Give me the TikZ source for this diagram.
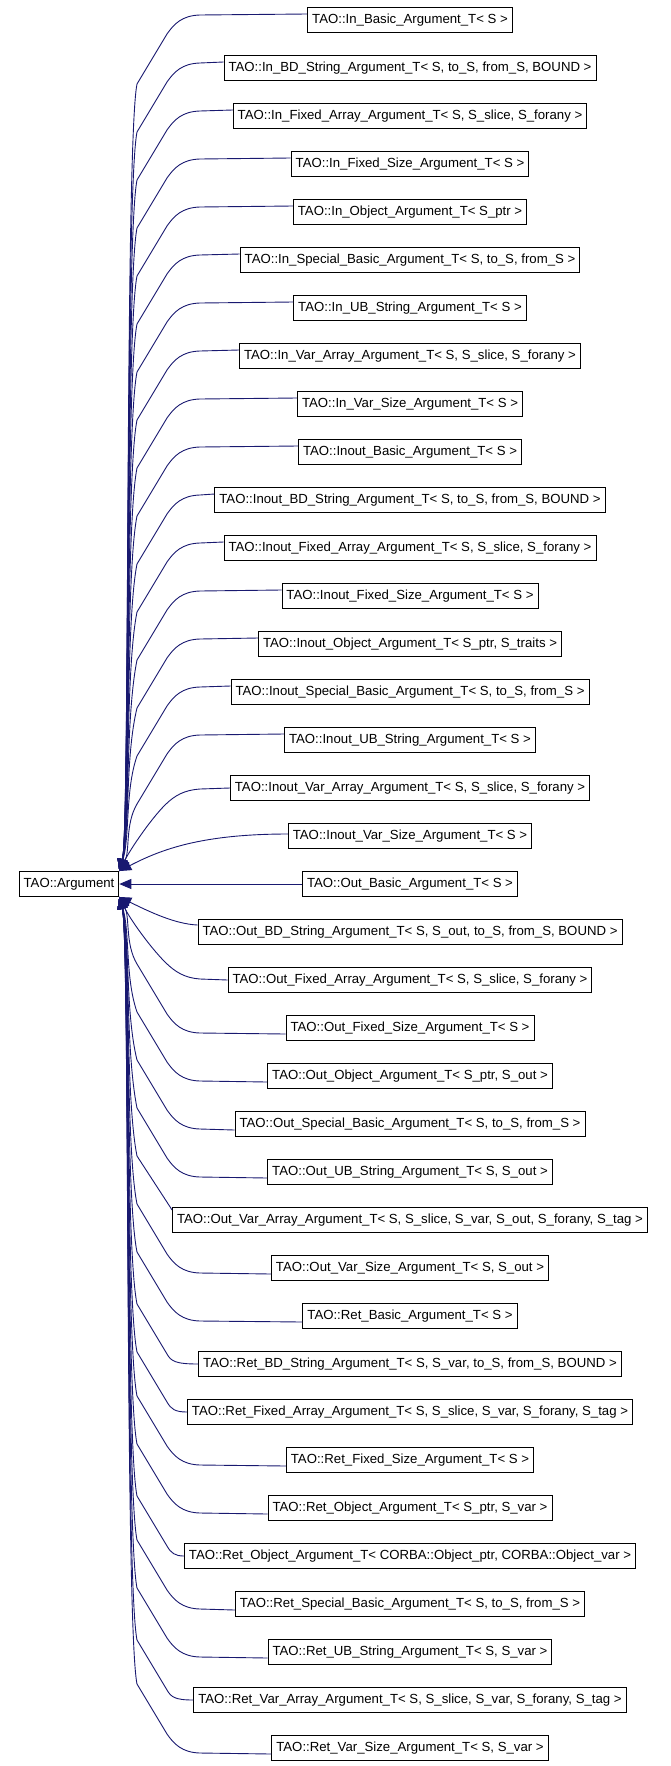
\documentclass[tikz,border=0pt]{standalone}
\usepackage{fontspec}
\setmainfont{Liberation Sans}
\usetikzlibrary{arrows,arrows.meta}
\definecolor{edgeBlue}{RGB}{25,25,112}
\newcommand{\classX}{410}
\newcommand{\classFont}{\fontsize{13.2}{15}\selectfont}
\tikzset{
  classbox/.style={draw=black, line width=0.9pt, fill=white, font=\classFont, inner xsep=4.5pt, inner ysep=0pt, minimum height=25pt},
  inherit/.style={draw=edgeBlue, line width=0.9pt, {Triangle[length=12pt,width=10pt]}-}
}

\begin{document}
\begin{tikzpicture}[x=1pt, y=1pt]
\useasboundingbox (0,0) rectangle (670,-1766);

\node[classbox] (argument) at (69,-884) {TAO::Argument};

\node[classbox] (inBasic) at (\classX,-20) {TAO::In\_Basic\_Argument\_T< S >};
\node[classbox] (inBDString) at (\classX,-68) {TAO::In\_BD\_String\_Argument\_T< S, to\_S, from\_S, BOUND >};
\node[classbox] (inFixedArray) at (\classX,-116) {TAO::In\_Fixed\_Array\_Argument\_T< S, S\_slice, S\_forany >};
\node[classbox] (inFixedSize) at (\classX,-164) {TAO::In\_Fixed\_Size\_Argument\_T< S >};
\node[classbox] (inObject) at (\classX,-212) {TAO::In\_Object\_Argument\_T< S\_ptr >};
\node[classbox] (inSpecialBasic) at (\classX,-260) {TAO::In\_Special\_Basic\_Argument\_T< S, to\_S, from\_S >};
\node[classbox] (inUBString) at (\classX,-308) {TAO::In\_UB\_String\_Argument\_T< S >};
\node[classbox] (inVarArray) at (\classX,-356) {TAO::In\_Var\_Array\_Argument\_T< S, S\_slice, S\_forany >};
\node[classbox] (inVarSize) at (\classX,-404) {TAO::In\_Var\_Size\_Argument\_T< S >};
\node[classbox] (inoutBasic) at (\classX,-452) {TAO::Inout\_Basic\_Argument\_T< S >};
\node[classbox] (inoutBDString) at (\classX,-500) {TAO::Inout\_BD\_String\_Argument\_T< S, to\_S, from\_S, BOUND >};
\node[classbox] (inoutFixedArray) at (\classX,-548) {TAO::Inout\_Fixed\_Array\_Argument\_T< S, S\_slice, S\_forany >};
\node[classbox] (inoutFixedSize) at (\classX,-596) {TAO::Inout\_Fixed\_Size\_Argument\_T< S >};
\node[classbox] (inoutObject) at (\classX,-644) {TAO::Inout\_Object\_Argument\_T< S\_ptr, S\_traits >};
\node[classbox] (inoutSpecialBasic) at (\classX,-692) {TAO::Inout\_Special\_Basic\_Argument\_T< S, to\_S, from\_S >};
\node[classbox] (inoutUBString) at (\classX,-740) {TAO::Inout\_UB\_String\_Argument\_T< S >};
\node[classbox] (inoutVarArray) at (\classX,-788) {TAO::Inout\_Var\_Array\_Argument\_T< S, S\_slice, S\_forany >};
\node[classbox] (inoutVarSize) at (\classX,-836) {TAO::Inout\_Var\_Size\_Argument\_T< S >};
\node[classbox] (outBasic) at (\classX,-884) {TAO::Out\_Basic\_Argument\_T< S >};
\node[classbox] (outBDString) at (\classX,-932) {TAO::Out\_BD\_String\_Argument\_T< S, S\_out, to\_S, from\_S, BOUND >};
\node[classbox] (outFixedArray) at (\classX,-980) {TAO::Out\_Fixed\_Array\_Argument\_T< S, S\_slice, S\_forany >};
\node[classbox] (outFixedSize) at (\classX,-1028) {TAO::Out\_Fixed\_Size\_Argument\_T< S >};
\node[classbox] (outObject) at (\classX,-1076) {TAO::Out\_Object\_Argument\_T< S\_ptr, S\_out >};
\node[classbox] (outSpecialBasic) at (\classX,-1124) {TAO::Out\_Special\_Basic\_Argument\_T< S, to\_S, from\_S >};
\node[classbox] (outUBString) at (\classX,-1172) {TAO::Out\_UB\_String\_Argument\_T< S, S\_out >};
\node[classbox] (outVarArray) at (\classX,-1220) {TAO::Out\_Var\_Array\_Argument\_T< S, S\_slice, S\_var, S\_out, S\_forany, S\_tag >};
\node[classbox] (outVarSize) at (\classX,-1268) {TAO::Out\_Var\_Size\_Argument\_T< S, S\_out >};
\node[classbox] (retBasic) at (\classX,-1316) {TAO::Ret\_Basic\_Argument\_T< S >};
\node[classbox] (retBDString) at (\classX,-1364) {TAO::Ret\_BD\_String\_Argument\_T< S, S\_var, to\_S, from\_S, BOUND >};
\node[classbox] (retFixedArray) at (\classX,-1412) {TAO::Ret\_Fixed\_Array\_Argument\_T< S, S\_slice, S\_var, S\_forany, S\_tag >};
\node[classbox] (retFixedSize) at (\classX,-1460) {TAO::Ret\_Fixed\_Size\_Argument\_T< S >};
\node[classbox] (retObject) at (\classX,-1508) {TAO::Ret\_Object\_Argument\_T< S\_ptr, S\_var >};
\node[classbox] (retObjectCorba) at (\classX,-1556) {TAO::Ret\_Object\_Argument\_T< CORBA::Object\_ptr, CORBA::Object\_var >};
\node[classbox] (retSpecialBasic) at (\classX,-1604) {TAO::Ret\_Special\_Basic\_Argument\_T< S, to\_S, from\_S >};
\node[classbox] (retUBString) at (\classX,-1652) {TAO::Ret\_UB\_String\_Argument\_T< S, S\_var >};
\node[classbox] (retVarArray) at (\classX,-1700) {TAO::Ret\_Var\_Array\_Argument\_T< S, S\_slice, S\_var, S\_forany, S\_tag >};
\node[classbox] (retVarSize) at (\classX,-1748) {TAO::Ret\_Var\_Size\_Argument\_T< S, S\_var >};

% upper fan
\draw[inherit] (argument.north east) .. controls (130,-832) and (125,-144) .. (137,-84) -- (167,-34) .. controls (174,-24) and (182,-15.5) .. (200,-15) -- ([yshift=6pt]inBasic.west);
\draw[inherit] (argument.north east) .. controls (130,-832) and (125,-192) .. (137,-132) -- (167,-82) .. controls (174,-72) and (182,-63.5) .. (200,-63) -- ([yshift=6pt]inBDString.west);
\draw[inherit] (argument.north east) .. controls (130,-832) and (125,-240) .. (137,-180) -- (167,-130) .. controls (174,-120) and (182,-111.5) .. (200,-111) -- ([yshift=6pt]inFixedArray.west);
\draw[inherit] (argument.north east) .. controls (130,-832) and (125,-288) .. (137,-228) -- (167,-178) .. controls (174,-168) and (182,-159.5) .. (200,-159) -- ([yshift=6pt]inFixedSize.west);
\draw[inherit] (argument.north east) .. controls (130,-832) and (125,-336) .. (137,-276) -- (167,-226) .. controls (174,-216) and (182,-207.5) .. (200,-207) -- ([yshift=6pt]inObject.west);
\draw[inherit] (argument.north east) .. controls (130,-832) and (125,-384) .. (137,-324) -- (167,-274) .. controls (174,-264) and (182,-255.5) .. (200,-255) -- ([yshift=6pt]inSpecialBasic.west);
\draw[inherit] (argument.north east) .. controls (130,-832) and (125,-432) .. (137,-372) -- (167,-322) .. controls (174,-312) and (182,-303.5) .. (200,-303) -- ([yshift=6pt]inUBString.west);
\draw[inherit] (argument.north east) .. controls (130,-832) and (125,-480) .. (137,-420) -- (167,-370) .. controls (174,-360) and (182,-351.5) .. (200,-351) -- ([yshift=6pt]inVarArray.west);
\draw[inherit] (argument.north east) .. controls (130,-832) and (125,-528) .. (137,-468) -- (167,-418) .. controls (174,-408) and (182,-399.5) .. (200,-399) -- ([yshift=6pt]inVarSize.west);
\draw[inherit] (argument.north east) .. controls (130,-832) and (125,-576) .. (137,-516) -- (167,-466) .. controls (174,-456) and (182,-447.5) .. (200,-447) -- ([yshift=6pt]inoutBasic.west);
\draw[inherit] (argument.north east) .. controls (130,-832) and (125,-624) .. (137,-564) -- (167,-514) .. controls (174,-504) and (182,-495.5) .. (200,-495) -- ([yshift=6pt]inoutBDString.west);
\draw[inherit] (argument.north east) .. controls (130,-832) and (125,-672) .. (137,-612) -- (167,-562) .. controls (174,-552) and (182,-543.5) .. (200,-543) -- ([yshift=6pt]inoutFixedArray.west);
\draw[inherit] (argument.north east) .. controls (130,-832) and (125,-720) .. (137,-660) -- (167,-610) .. controls (174,-600) and (182,-591.5) .. (200,-591) -- ([yshift=6pt]inoutFixedSize.west);
\draw[inherit] (argument.north east) .. controls (130,-832) and (125,-757.2) .. (137,-708) -- (167,-658) .. controls (174,-648) and (182,-639.5) .. (200,-639) -- ([yshift=6pt]inoutObject.west);
\draw[inherit] (argument.north east) .. controls (130,-837.2) and (125,-790.8) .. (137,-756) -- (167,-706) .. controls (174,-696) and (182,-687.5) .. (200,-687) -- ([yshift=6pt]inoutSpecialBasic.west);
\draw[inherit] (argument.north east) .. controls (130,-851.6) and (125,-824.4) .. (137,-804) -- (167,-754) .. controls (174,-744) and (182,-735.5) .. (200,-735) -- ([yshift=6pt]inoutUBString.west);
\draw[inherit] (argument.north east) .. controls (130,-850) and (150,-820) .. (165,-805) .. controls (175,-795) and (185,-790) .. (200,-789) -- (inoutVarArray.west);
\draw[inherit] (argument.north east) .. controls (160,-850) and (200,-834) .. ([yshift=2pt]inoutVarSize.west);

\draw[inherit] (argument.east) -- (outBasic.west);

% lower fan
\draw[inherit] (argument.south east) .. controls (150,-912) and (175,-924) .. ([yshift=7pt]outBDString.west);
\draw[inherit] (argument.south east) .. controls (130,-919) and (150,-947) .. (165,-962) .. controls (175,-972) and (185,-978) .. (200,-979) -- (outFixedArray.west);
\draw[inherit] (argument.south east) .. controls (130,-917.1) and (125,-943.9) .. (137,-964) -- (167,-1014) .. controls (174,-1024) and (182,-1032.5) .. (200,-1033) -- ([yshift=-6pt]outFixedSize.west);
\draw[inherit] (argument.south east) .. controls (130,-931.5) and (125,-977.5) .. (137,-1012) -- (167,-1062) .. controls (174,-1072) and (182,-1080.5) .. (200,-1081) -- ([yshift=-6pt]outObject.west);
\draw[inherit] (argument.south east) .. controls (130,-937) and (125,-1011.1) .. (137,-1060) -- (167,-1110) .. controls (174,-1120) and (182,-1128.5) .. (200,-1129) -- ([yshift=-6pt]outSpecialBasic.west);
\draw[inherit] (argument.south east) .. controls (130,-937) and (125,-1048) .. (137,-1108) -- (167,-1158) .. controls (174,-1168) and (182,-1176.5) .. (200,-1177) -- ([yshift=-6pt]outUBString.west);
\draw[inherit] (argument.south east) .. controls (130,-937) and (125,-1096) .. (137,-1156) -- ([yshift=10pt]outVarArray.west);
\draw[inherit] (argument.south east) .. controls (130,-937) and (125,-1144) .. (137,-1204) -- (167,-1254) .. controls (174,-1264) and (182,-1272.5) .. (200,-1273) -- ([yshift=-6pt]outVarSize.west);
\draw[inherit] (argument.south east) .. controls (130,-937) and (125,-1192) .. (137,-1252) -- (167,-1302) .. controls (174,-1312) and (182,-1320.5) .. (200,-1321) -- ([yshift=-6pt]retBasic.west);
\draw[inherit] (argument.south east) .. controls (130,-937) and (125,-1244) .. (137,-1304) -- (167,-1354) .. controls (171,-1361) and (175,-1364) .. (retBDString.west);
\draw[inherit] (argument.south east) .. controls (130,-937) and (125,-1292) .. (137,-1352) -- (167,-1402) .. controls (171,-1409) and (175,-1412) .. (retFixedArray.west);
\draw[inherit] (argument.south east) .. controls (130,-937) and (125,-1336) .. (137,-1396) -- (167,-1446) .. controls (174,-1456) and (182,-1464.5) .. (200,-1465) -- ([yshift=-6pt]retFixedSize.west);
\draw[inherit] (argument.south east) .. controls (130,-937) and (125,-1384) .. (137,-1444) -- (167,-1494) .. controls (174,-1504) and (182,-1512.5) .. (200,-1513) -- ([yshift=-6pt]retObject.west);
\draw[inherit] (argument.south east) .. controls (130,-937) and (125,-1436) .. (137,-1496) -- (167,-1546) .. controls (171,-1553) and (175,-1556) .. (retObjectCorba.west);
\draw[inherit] (argument.south east) .. controls (130,-937) and (125,-1480) .. (137,-1540) -- (167,-1590) .. controls (174,-1600) and (182,-1608.5) .. (200,-1609) -- ([yshift=-6pt]retSpecialBasic.west);
\draw[inherit] (argument.south east) .. controls (130,-937) and (125,-1528) .. (137,-1588) -- (167,-1638) .. controls (174,-1648) and (182,-1656.5) .. (200,-1657) -- ([yshift=-6pt]retUBString.west);
\draw[inherit] (argument.south east) .. controls (130,-937) and (125,-1580) .. (137,-1640) -- (167,-1690) .. controls (171,-1697) and (175,-1700) .. (retVarArray.west);
\draw[inherit] (argument.south east) .. controls (130,-937) and (125,-1624) .. (137,-1684) -- (167,-1734) .. controls (174,-1744) and (182,-1752.5) .. (200,-1753) -- ([yshift=-6pt]retVarSize.west);
\end{tikzpicture}
\end{document}
